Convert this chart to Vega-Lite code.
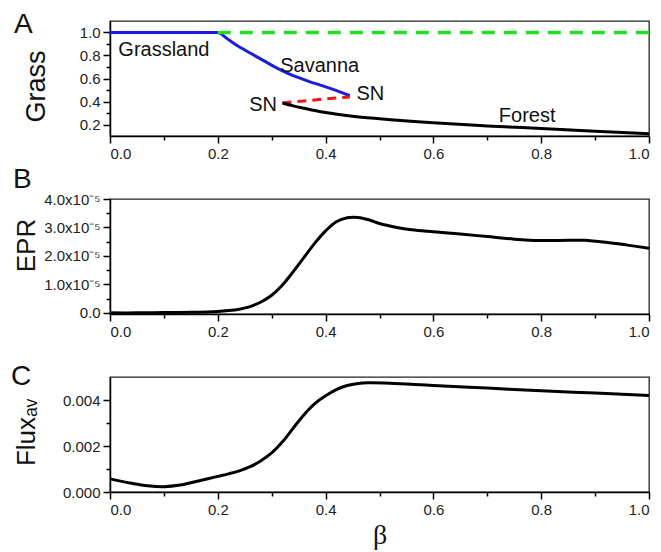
{
  "$schema": "https://vega.github.io/schema/vega-lite/v6.json",
  "padding": {"left": 10, "top": 10, "right": 5, "bottom": 5},
  "config": {
    "font": "Liberation Sans",
    "view": {"stroke": "#222", "strokeWidth": 1.3},
    "axis": {"domainColor": "#000", "domainWidth": 1.5, "tickColor": "#000", "tickWidth": 1.5, "labelFont": "Liberation Sans", "labelFontSize": 15, "labelColor": "#222", "titleFont": "Liberation Sans", "titleFontWeight": "normal", "titleFontSize": 26, "titleColor": "#111", "grid": false, "labelPadding": 3},
    "title": {"font": "Liberation Sans", "fontSize": 28, "fontWeight": "normal", "anchor": "start", "frame": "group", "color": "#111", "baseline": "alphabetic"}
  },
  "datasets": {
    "grass": [
      {"series": "blue", "beta": 0.0, "value": 1.0},
      {"series": "blue", "beta": 0.2, "value": 1.0},
      {"series": "blue", "beta": 0.215, "value": 0.955},
      {"series": "blue", "beta": 0.23, "value": 0.905},
      {"series": "blue", "beta": 0.25, "value": 0.848},
      {"series": "blue", "beta": 0.27, "value": 0.795},
      {"series": "blue", "beta": 0.29, "value": 0.742},
      {"series": "blue", "beta": 0.31, "value": 0.69},
      {"series": "blue", "beta": 0.33, "value": 0.645},
      {"series": "blue", "beta": 0.35, "value": 0.607},
      {"series": "blue", "beta": 0.37, "value": 0.573},
      {"series": "blue", "beta": 0.39, "value": 0.543},
      {"series": "blue", "beta": 0.41, "value": 0.512},
      {"series": "blue", "beta": 0.43, "value": 0.478},
      {"series": "blue", "beta": 0.445, "value": 0.45},
      {"series": "green", "beta": 0.2, "value": 1.0},
      {"series": "green", "beta": 1.0, "value": 1.0},
      {"series": "red", "beta": 0.32, "value": 0.388},
      {"series": "red", "beta": 0.36, "value": 0.405},
      {"series": "red", "beta": 0.4, "value": 0.422},
      {"series": "red", "beta": 0.445, "value": 0.44},
      {"series": "black", "beta": 0.32, "value": 0.387},
      {"series": "black", "beta": 0.34, "value": 0.362},
      {"series": "black", "beta": 0.36, "value": 0.342},
      {"series": "black", "beta": 0.38, "value": 0.322},
      {"series": "black", "beta": 0.4, "value": 0.304},
      {"series": "black", "beta": 0.45, "value": 0.272},
      {"series": "black", "beta": 0.5, "value": 0.25},
      {"series": "black", "beta": 0.6, "value": 0.215},
      {"series": "black", "beta": 0.7, "value": 0.188},
      {"series": "black", "beta": 0.8, "value": 0.165},
      {"series": "black", "beta": 0.9, "value": 0.142},
      {"series": "black", "beta": 1.0, "value": 0.12}
    ],
    "labelsA": [
      {"label": "Grassland", "beta": 0.1, "value": 0.85},
      {"label": "Savanna", "beta": 0.389, "value": 0.71},
      {"label": "SN", "beta": 0.483, "value": 0.464},
      {"label": "SN", "beta": 0.284, "value": 0.37},
      {"label": "Forest", "beta": 0.774, "value": 0.278}
    ],
    "epr": [
      {"beta": 0.0, "epr": 0.0},
      {"beta": 0.05, "epr": 0.0},
      {"beta": 0.1, "epr": 0.0000001},
      {"beta": 0.15, "epr": 0.0000002},
      {"beta": 0.2, "epr": 0.0000005},
      {"beta": 0.22, "epr": 0.0000008},
      {"beta": 0.24, "epr": 0.0000013},
      {"beta": 0.26, "epr": 0.0000022},
      {"beta": 0.28, "epr": 0.0000038},
      {"beta": 0.3, "epr": 0.0000062},
      {"beta": 0.32, "epr": 0.0000098},
      {"beta": 0.34, "epr": 0.0000145},
      {"beta": 0.36, "epr": 0.0000195},
      {"beta": 0.38, "epr": 0.0000245},
      {"beta": 0.4, "epr": 0.0000288},
      {"beta": 0.42, "epr": 0.000032},
      {"beta": 0.44, "epr": 0.0000334},
      {"beta": 0.46, "epr": 0.0000335},
      {"beta": 0.48, "epr": 0.0000327},
      {"beta": 0.5, "epr": 0.0000314},
      {"beta": 0.53, "epr": 0.0000301},
      {"beta": 0.56, "epr": 0.0000292},
      {"beta": 0.6, "epr": 0.0000285},
      {"beta": 0.65, "epr": 0.0000277},
      {"beta": 0.7, "epr": 0.0000268},
      {"beta": 0.75, "epr": 0.0000259},
      {"beta": 0.8, "epr": 0.0000254},
      {"beta": 0.85, "epr": 0.0000255},
      {"beta": 0.88, "epr": 0.0000255},
      {"beta": 0.92, "epr": 0.0000248},
      {"beta": 0.96, "epr": 0.0000238},
      {"beta": 1.0, "epr": 0.0000227}
    ],
    "flux": [
      {"beta": 0.0, "flux": 0.00057},
      {"beta": 0.04, "flux": 0.00038},
      {"beta": 0.07, "flux": 0.00027},
      {"beta": 0.1, "flux": 0.00023},
      {"beta": 0.13, "flux": 0.0003},
      {"beta": 0.16, "flux": 0.00046},
      {"beta": 0.2, "flux": 0.00068},
      {"beta": 0.22, "flux": 0.00079},
      {"beta": 0.24, "flux": 0.00092},
      {"beta": 0.26, "flux": 0.0011},
      {"beta": 0.28, "flux": 0.00136},
      {"beta": 0.3, "flux": 0.0017},
      {"beta": 0.32, "flux": 0.00218},
      {"beta": 0.34, "flux": 0.00278},
      {"beta": 0.36, "flux": 0.00336},
      {"beta": 0.38, "flux": 0.00384},
      {"beta": 0.4, "flux": 0.00418},
      {"beta": 0.42, "flux": 0.00445},
      {"beta": 0.44, "flux": 0.00463},
      {"beta": 0.46, "flux": 0.00472},
      {"beta": 0.48, "flux": 0.00475},
      {"beta": 0.52, "flux": 0.00473},
      {"beta": 0.6, "flux": 0.00463},
      {"beta": 0.7, "flux": 0.00452},
      {"beta": 0.8, "flux": 0.0044},
      {"beta": 0.9, "flux": 0.0043},
      {"beta": 1.0, "flux": 0.0042}
    ]
  },
  "spacing": 63,
  "bounds": "flush",
  "vconcat": [
    {
      "width": 539,
      "height": 115,
      "title": {"text": "A", "dx": -96, "offset": -18},
      "resolve": {"axis": {"x": "independent", "y": "independent"}},
      "layer": [
        {
          "data": {"name": "grass"},
          "transform": [{"filter": "datum.series == 'blue'"}],
          "mark": {"type": "line", "color": "#1c1ce0", "strokeWidth": 3, "interpolate": "monotone"},
          "encoding": {
            "x": {"field": "beta", "type": "quantitative", "scale": {"domain": [0, 1], "nice": false}, "axis": {"values": [0, 0.2, 0.4, 0.6, 0.8, 1.0], "format": ".1f", "title": null, "tickSize": 7}},
            "y": {"field": "value", "type": "quantitative", "scale": {"domain": [0.1, 1.1], "nice": false, "zero": false}, "axis": {"values": [0.2, 0.4, 0.6, 0.8, 1.0], "format": ".1f", "title": "Grass", "tickSize": 7, "titleX": -66, "titleY": 65, "titleBaseline": "alphabetic", "titleAlign": "center", "titleFontSize": 27}}
          }
        },
        {
          "data": {"name": "grass"},
          "transform": [{"filter": "datum.series == 'green'"}],
          "mark": {"type": "line", "color": "#22dd22", "strokeWidth": 3.5, "strokeDash": [13, 9]},
          "encoding": {
            "x": {"field": "beta", "type": "quantitative", "axis": {"orient": "bottom", "values": [0.1, 0.3, 0.5, 0.7, 0.9], "labels": false, "domain": false, "tickSize": 4, "title": null}},
            "y": {"field": "value", "type": "quantitative", "axis": {"orient": "left", "values": [0.3, 0.5, 0.7, 0.9], "labels": false, "domain": false, "tickSize": 4, "title": null}}
          }
        },
        {
          "data": {"name": "grass"},
          "transform": [{"filter": "datum.series == 'red'"}],
          "mark": {"type": "line", "color": "#ee1515", "strokeWidth": 3, "strokeDash": [9, 6]},
          "encoding": {
            "x": {"field": "beta", "type": "quantitative", "axis": null},
            "y": {"field": "value", "type": "quantitative", "axis": null}
          }
        },
        {
          "data": {"name": "grass"},
          "transform": [{"filter": "datum.series == 'black'"}],
          "mark": {"type": "line", "color": "#000", "strokeWidth": 3, "interpolate": "monotone"},
          "encoding": {
            "x": {"field": "beta", "type": "quantitative", "axis": null},
            "y": {"field": "value", "type": "quantitative", "axis": null}
          }
        },
        {
          "data": {"name": "labelsA"},
          "mark": {"type": "text", "fontSize": 20, "font": "Liberation Sans", "color": "#111", "align": "center", "baseline": "middle"},
          "encoding": {
            "x": {"field": "beta", "type": "quantitative", "axis": null},
            "y": {"field": "value", "type": "quantitative", "axis": null},
            "text": {"field": "label"}
          }
        }
      ]
    },
    {
      "width": 539,
      "height": 115,
      "title": {"text": "B", "dx": -97, "offset": -2},
      "data": {"name": "epr"},
      "resolve": {"axis": {"x": "independent", "y": "independent"}},
      "layer": [
        {
          "mark": {"type": "line", "color": "#000", "strokeWidth": 3, "interpolate": "catmull-rom"},
          "encoding": {
            "x": {"field": "beta", "type": "quantitative", "scale": {"domain": [0, 1], "nice": false}, "axis": {"values": [0, 0.2, 0.4, 0.6, 0.8, 1.0], "format": ".1f", "title": null, "tickSize": 7}},
            "y": {"field": "epr", "type": "quantitative", "scale": {"domain": [-0.0000004, 0.00004], "nice": false, "zero": false}, "axis": {"values": [0, 0.00001, 0.00002, 0.00003, 0.00004], "labelExpr": "datum.value == 0 ? '0.0' : format(datum.value * 100000, '.1f') + 'x10⁻⁵'", "title": "EPR", "tickSize": 7, "titleX": -76, "titleY": 46, "titleBaseline": "alphabetic", "titleAlign": "center"}}
          }
        },
        {
          "mark": {"type": "line", "color": "#000", "strokeOpacity": 0},
          "encoding": {
            "x": {"field": "beta", "type": "quantitative", "axis": {"orient": "bottom", "values": [0.1, 0.3, 0.5, 0.7, 0.9], "labels": false, "domain": false, "tickSize": 4, "title": null}},
            "y": {"field": "epr", "type": "quantitative", "axis": {"orient": "left", "values": [0.000005, 0.000015, 0.000025, 0.000035], "labels": false, "domain": false, "tickSize": 4, "title": null}}
          }
        }
      ]
    },
    {
      "width": 539,
      "height": 115,
      "title": {"text": "C", "dx": -99, "offset": -14},
      "data": {"name": "flux"},
      "resolve": {"axis": {"x": "independent", "y": "independent"}},
      "layer": [
        {
          "mark": {"type": "line", "color": "#000", "strokeWidth": 3, "interpolate": "catmull-rom"},
          "encoding": {
            "x": {"field": "beta", "type": "quantitative", "scale": {"domain": [0, 1], "nice": false}, "axis": {"values": [0, 0.2, 0.4, 0.6, 0.8, 1.0], "format": ".1f", "title": "β", "titleFont": "Liberation Serif", "titleFontSize": 28, "titlePadding": 4, "tickSize": 7}},
            "y": {"field": "flux", "type": "quantitative", "scale": {"domain": [0, 0.005], "nice": false, "zero": false}, "axis": {"values": [0, 0.002, 0.004], "format": ".3f", "title": "Fluxₐᵥ", "tickSize": 7, "titleX": -76, "titleY": 55, "titleBaseline": "alphabetic", "titleAlign": "center"}}
          }
        },
        {
          "mark": {"type": "line", "color": "#000", "strokeOpacity": 0},
          "encoding": {
            "x": {"field": "beta", "type": "quantitative", "axis": {"orient": "bottom", "values": [0.1, 0.3, 0.5, 0.7, 0.9], "labels": false, "domain": false, "tickSize": 4, "title": null}},
            "y": {"field": "flux", "type": "quantitative", "axis": {"orient": "left", "values": [0.001, 0.003], "labels": false, "domain": false, "tickSize": 4, "title": null}}
          }
        }
      ]
    }
  ]
}
